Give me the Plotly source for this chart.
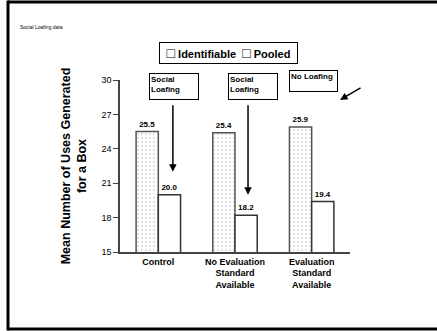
import plotly.graph_objects as go

categories = ["Control", "No Evaluation<br>Standard<br>Available", "Evaluation<br>Standard<br>Available"]
identifiable = [25.5, 25.4, 25.9]
pooled = [20.0, 18.2, 19.4]
y_ticks = [15, 18, 21, 24, 27, 30]

FONT = "Arial, Liberation Sans, sans-serif"

fig = go.Figure()
fig.add_trace(go.Bar(
    x=categories, y=identifiable, name="Identifiable", showlegend=False,
    marker=dict(color="white", line=dict(color="#555555", width=1.5),
                pattern=dict(shape=".", fgcolor="#b5b5b5", bgcolor="white", size=4, solidity=0.2)),
    texttemplate="<b>%{y:.1f}</b>", textposition="outside",
    textfont=dict(size=8, color="black", family=FONT), cliponaxis=False,
))
fig.add_trace(go.Bar(
    x=categories, y=pooled, name="Pooled", showlegend=False,
    marker=dict(color="white", line=dict(color="#333333", width=1.5)),
    texttemplate="<b>%{y:.1f}</b>", textposition="outside",
    textfont=dict(size=8, color="black", family=FONT), cliponaxis=False,
))

fig.update_layout(
    width=437, height=331,
    margin=dict(l=120, r=87, t=80, b=79),
    paper_bgcolor="white", plot_bgcolor="white",
    font=dict(family=FONT, color="black"),
    barmode="group", bargap=0.42, bargroupgap=0,
    showlegend=False,
    title=dict(text="Social Loafing data", x=20/437, y=1-27/331, xanchor="left", yanchor="middle",
               font=dict(size=5, family=FONT)),
    xaxis=dict(showline=True, linecolor="#444444", linewidth=1.5, ticks="",
               tickfont=dict(size=9, family=FONT), range=[-0.5, 2.5],
               tickprefix="<b>", ticksuffix="</b>"),
    yaxis=dict(range=[15, 30], tickvals=y_ticks, showline=True, linecolor="#444444", linewidth=1.5,
               ticks="outside", ticklen=5, tickcolor="#444444", showgrid=False, zeroline=False,
               tickfont=dict(size=9, family=FONT), tickprefix="<b>", ticksuffix="</b>",
               title=dict(text="<b>Mean Number of Uses Generated<br>for a Box</b>",
                          font=dict(size=12.5, family=FONT), standoff=12)),
)

# legend box
SQ = "<span style='font-size:14px'>\u25a1</span>"
fig.add_annotation(xref="paper", yref="paper", x=(228 - 120) / 230, y=1 + (80 - 42) / 172,
                   text=f"<b>{SQ} Identifiable  {SQ} Pooled</b>", showarrow=False,
                   font=dict(size=11, family=FONT, color="black"),
                   bordercolor="black", borderwidth=1, bgcolor="white", borderpad=2,
                   width=133, height=16)

# arrows
arrow = dict(showarrow=True, arrowhead=2, arrowsize=1, arrowwidth=1.5, arrowcolor="black",
             text="", xref="x", yref="y", axref="pixel", ayref="pixel")
fig.add_annotation(x=0.19, y=22.0, ax=0, ay=-68, **arrow)
fig.add_annotation(x=1.17, y=20.0, ax=0, ay=-91, **arrow)
fig.add_annotation(x=2.37, y=28.26, ax=22, ay=-13, **arrow)

# text boxes
box = dict(showarrow=False, align="left", valign="top",
           bordercolor="black", borderwidth=1, bgcolor="white",
           font=dict(size=8, family=FONT, color="black"))
fig.add_annotation(xref="x", yref="y", x=0.205, y=29.43, text="<b>Social<br>Loafing</b>",
                   width=46, height=23, **box)
fig.add_annotation(xref="x", yref="y", x=1.235, y=29.43, text="<b>Social<br>Loafing</b>",
                   width=46, height=23, **box)
fig.add_annotation(xref="paper", yref="paper", x=(337.5 - 120) / 230, y=1 + (80 - 70.5) / 172,
                   text="<b>No Loafing</b>", width=45, height=18, **box)

# frame border
X_L, X_R = (8 - 120) / 230, (437 - 120) / 230
Y_T, Y_B = 1 + (80 - 2) / 172, 1 - (329 - 80) / 172
fig.add_shape(type="line", xref="paper", yref="paper", x0=X_L, x1=X_R, y0=Y_T, y1=Y_T,
              line=dict(color="black", width=3))
fig.add_shape(type="line", xref="paper", yref="paper", x0=X_L, x1=X_L, y0=Y_T + 0.008, y1=Y_B - 0.008,
              line=dict(color="black", width=3))
fig.add_shape(type="line", xref="paper", yref="paper", x0=X_L, x1=X_R, y0=Y_B, y1=Y_B,
              line=dict(color="black", width=3))

fig.write_html("out.html")
